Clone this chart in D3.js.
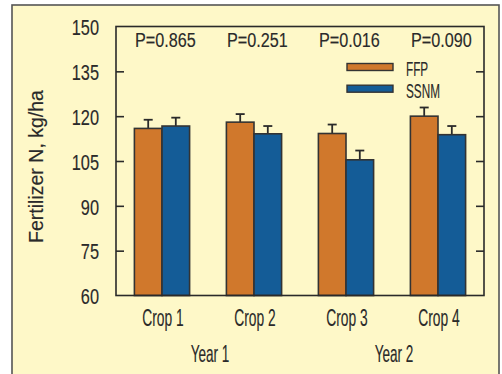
<!DOCTYPE html>
<html>
<head>
<meta charset="utf-8">
<script src="https://cdn.jsdelivr.net/npm/d3@7"></script>
<style>
  html, body { margin: 0; padding: 0; background: #ffffff; }
  svg { display: block; }
  text { font-family: "Liberation Sans", Arial, sans-serif; fill: #2a2a2a; stroke: #2a2a2a; stroke-width: 0.15px; }
</style>
</head>
<body>
<script>
// Fertilizer N applied per crop, farmer practice vs site-specific management
const crops = ["Crop 1", "Crop 2", "Crop 3", "Crop 4"];
const seriesNames = ["FFP", "SSNM"];
const ffpValues = [115.9, 118.0, 114.2, 120.0];
const ssnmValues = [116.7, 114.1, 105.4, 113.8];
const ffpErrors = [2.9, 2.7, 3.0, 2.9];
const ssnmErrors = [2.8, 2.6, 3.1, 2.9];
const pValues = ["P=0.865", "P=0.251", "P=0.016", "P=0.090"];
const years = [
  { label: "Year 1", crops: ["Crop 1", "Crop 2"] },
  { label: "Year 2", crops: ["Crop 3", "Crop 4"] }
];
const yTicks = [60, 75, 90, 105, 120, 135, 150];
const colors = { FFP: "#d0782c", SSNM: "#145c97" };

const W = 502, H = 374;
const svg = d3.select("body").append("svg").attr("width", W).attr("height", H);

// condensed-looking label: horizontally squeezed text
function label(parent, x, y, str, size, sx, anchor, rotate) {
  return parent.append("text")
    .attr("transform", `translate(${x},${y})${rotate ? ` rotate(${rotate})` : ""} scale(${sx},1)`)
    .attr("text-anchor", anchor || "start")
    .attr("font-size", size)
    .text(str);
}

// panel background
svg.append("rect").attr("x", 12).attr("y", 5).attr("width", 487).attr("height", 380)
  .attr("fill", "#fef8c8").attr("stroke", "#555").attr("stroke-width", 1.6);

const plot = { left: 116, right: 484, top: 26.5, bottom: 295.5 };

const x0 = d3.scaleBand().domain(crops).range([plot.left, plot.right])
  .paddingInner(0.4).paddingOuter(0.2);
const x1 = d3.scaleBand().domain(seriesNames).range([0, x0.bandwidth()]);
const y = d3.scaleLinear().domain([60, 150]).range([plot.bottom, plot.top]);

const rows = crops.map((c, i) => ({
  crop: c,
  bars: [
    { key: "FFP", value: ffpValues[i], err: ffpErrors[i] },
    { key: "SSNM", value: ssnmValues[i], err: ssnmErrors[i] }
  ]
}));

const groups = svg.append("g").selectAll("g").data(rows).join("g")
  .attr("transform", d => `translate(${x0(d.crop)},0)`);

// error bars (upper half only)
groups.selectAll("g.err").data(d => d.bars).join("g").attr("class", "err")
  .each(function (d) {
    const g = d3.select(this);
    const cx = x1(d.key) + x1.bandwidth() / 2;
    g.append("line").attr("x1", cx).attr("x2", cx)
      .attr("y1", y(d.value)).attr("y2", y(d.value + d.err))
      .attr("stroke", "#2a2a2a").attr("stroke-width", 1.8);
    g.append("line").attr("x1", cx - 4.5).attr("x2", cx + 4.5)
      .attr("y1", y(d.value + d.err)).attr("y2", y(d.value + d.err))
      .attr("stroke", "#2a2a2a").attr("stroke-width", 1.8);
  });

// bars
groups.selectAll("rect").data(d => d.bars).join("rect")
  .attr("x", d => x1(d.key))
  .attr("width", x1.bandwidth())
  .attr("y", d => y(d.value))
  .attr("height", d => y(60) - y(d.value))
  .attr("fill", d => colors[d.key])
  .attr("stroke", "#333").attr("stroke-width", 1.6);

// plot frame
svg.append("rect").attr("x", plot.left).attr("y", plot.top)
  .attr("width", plot.right - plot.left).attr("height", plot.bottom - plot.top)
  .attr("fill", "none").attr("stroke", "#2a2a2a").attr("stroke-width", 1.6);

// y axes: inward ticks on both sides
const inner = yTicks.slice(1, -1);
const leftAxis = d3.axisRight(y).tickValues(inner).tickSize(8).tickFormat("");
const rightAxis = d3.axisLeft(y).tickValues(inner).tickSize(8).tickFormat("");
[svg.append("g").attr("transform", `translate(${plot.left},0)`).call(leftAxis),
 svg.append("g").attr("transform", `translate(${plot.right},0)`).call(rightAxis)]
  .forEach(g => {
    g.select(".domain").remove();
    g.selectAll("line").attr("stroke", "#2a2a2a").attr("stroke-width", 1.6);
  });

// y tick labels
const tickLayer = svg.append("g");
yTicks.forEach(v => label(tickLayer, 99, y(v) + 8.8, v, 21.5, 0.76, "end"));

// y axis title
label(svg, 42.5, 166.5, "Fertilizer N, kg/ha", 21, 0.93, "middle", -90);

// crop labels
const cropLayer = svg.append("g");
crops.forEach(c => label(cropLayer, x0(c) + x0.bandwidth() / 2 + 1, 326, c, 23, 0.6, "middle"));

// year labels
const yearLayer = svg.append("g");
years.forEach(d => {
  const cx = (x0(d.crops[0]) + x0(d.crops[1]) + x0.bandwidth()) / 2 + 2;
  label(yearLayer, cx, 361.5, d.label, 23, 0.59, "middle");
});

// significance labels
const pLayer = svg.append("g");
crops.forEach((c, i) => label(pLayer, x0(c) + 0.5, 46.5, pValues[i], 20, 0.81, "start"));

// legend
const legend = svg.append("g").selectAll("g").data(seriesNames).join("g")
  .attr("transform", (d, i) => `translate(347,${63.5 + i * 21.7})`);
legend.append("rect").attr("width", 46).attr("height", 7)
  .attr("fill", d => colors[d]).attr("stroke", "#333").attr("stroke-width", 1.4);
legend.each(function (d) { label(d3.select(this), 59, 12.5, d, 21, 0.56, "start"); });
</script>
</body>
</html>
